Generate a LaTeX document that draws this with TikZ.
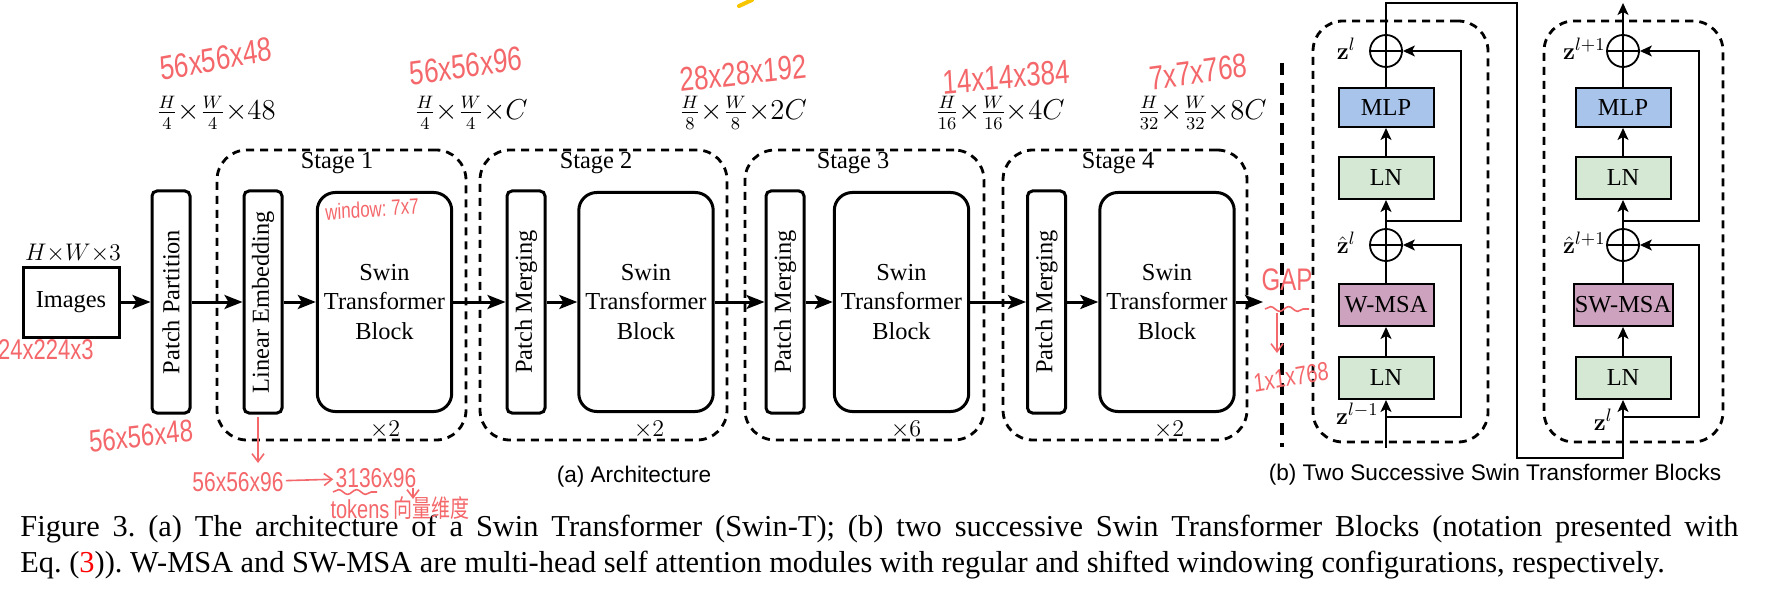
\documentclass[tikz,border=0pt]{standalone}
\usepackage{amsmath}
\usepackage[no-math]{fontspec}
\setmainfont{Liberation Serif}
\newfontfamily\labelsans{Liberation Sans}
\newfontfamily\inkfont{Liberation Sans}
\newfontfamily\cjk{Noto Sans CJK SC}
\usetikzlibrary{arrows.meta,calc,decorations.pathmorphing}
\definecolor{mlpblue}{HTML}{A9C4EB}
\definecolor{lngreen}{HTML}{D5E8D4}
\definecolor{msapurple}{HTML}{CDA2BE}
\definecolor{inkred}{HTML}{F4676A}
\definecolor{inkyellow}{HTML}{F7C600}
\frenchspacing
\newcommand\figfs{\fontsize{12.2}{14.8}\selectfont}
\newcommand\dimfs{\fontsize{13.3}{15}\selectfont}
\newcommand\capfs{\fontsize{15.2}{18}\selectfont}
\newcommand\subfs{\labelsans\fontsize{11.3}{13}\selectfont}
\newcommand\inkfs[1]{\inkfont\fontsize{#1}{#1}\selectfont}
\tikzset{
  flowarrow/.style={-{Stealth[length=9pt,width=7pt,inset=2pt]}, line width=1.5pt},
  thinarrow/.style={-{Stealth[length=6pt,width=5.5pt,inset=1.5pt]}, line width=0.75pt},
  thinline/.style={line width=0.75pt},
  imgbox/.style={draw, line width=1.5pt, minimum width=48pt, minimum height=35pt},
  slimbox/.style={draw, line width=1.5pt, rounded corners=2.5pt, rotate=90, minimum width=111pt, minimum height=19pt, inner sep=0pt},
  swinbox/.style={draw, line width=1.5pt, rounded corners=9pt, minimum width=66pt, minimum height=109.5pt, align=center},
  stagebox/.style={draw, dash pattern=on 4pt off 3pt, line width=1.4pt, rounded corners=15pt},
  normbox/.style={draw, line width=1pt, fill=lngreen, minimum width=47.5pt, minimum height=21pt, inner sep=0pt},
  mlpbox/.style={normbox, fill=mlpblue, minimum height=19.5pt},
  msabox/.style={normbox, fill=msapurple},
  plusnode/.style={draw, circle, line width=0.9pt, minimum size=16pt, inner sep=0pt,
    path picture={\draw[line width=0.9pt] (path picture bounding box.north) -- (path picture bounding box.south)
      (path picture bounding box.west) -- (path picture bounding box.east);}},
  inknote/.style={text=inkred, font=\inkfs{12}, yscale=1.3, inner sep=1pt},
  inkarrow/.style={draw=inkred, line width=0.8pt, -{Straight Barb[length=4pt,width=6pt]}},
  inkwave/.style={draw=inkred, line width=0.8pt, decorate, decoration={snake, amplitude=1.2pt, segment length=9pt}}
}

\begin{document}
\begin{tikzpicture}[x=0.5pt, y=-0.5pt, every node/.style={font=\figfs}]
  \path[fill=white, use as bounding box] (0,0) rectangle (1786,609);

  % (a) architecture
  \node[stagebox, minimum width=124.5pt, minimum height=145pt] (stage1) at (341.5,295) {};
  \node[stagebox, minimum width=123.5pt, minimum height=145pt] (stage2) at (603.5,295) {};
  \node[stagebox, minimum width=119.5pt, minimum height=145pt] (stage3) at (864.5,295) {};
  \node[stagebox, minimum width=122pt, minimum height=145pt] (stage4) at (1125,295) {};
  \node (stage1lbl) at (337,163) {Stage 1};
  \node (stage2lbl) at (596,163) {Stage 2};
  \node (stage3lbl) at (853,163) {Stage 3};
  \node (stage4lbl) at (1118,163) {Stage 4};

  \node[font=\fontsize{12.5}{14}\selectfont] (imgdim) at (73,253) {$H{\times}W{\times}3$};
  \node[imgbox] (img) at (71,302) {Images};
  \node[slimbox] (pp) at (171,302) {Patch Partition};
  \node[slimbox] (le) at (263,302) {Linear Embedding};
  \node[swinbox] (stb1) at (384.5,302) {Swin\\Transformer\\Block};
  \node[slimbox] (pm2) at (526,302) {Patch Merging};
  \node[swinbox] (stb2) at (646,302) {Swin\\Transformer\\Block};
  \node[slimbox] (pm3) at (785,302) {Patch Merging};
  \node[swinbox] (stb3) at (901.5,302) {Swin\\Transformer\\Block};
  \node[slimbox] (pm4) at (1046.5,302) {Patch Merging};
  \node[swinbox] (stb4) at (1167,302) {Swin\\Transformer\\Block};
  \coordinate (gapin) at (1263,302);

  \node (rep1) at (385,430) {${\times}2$};
  \node (rep2) at (649,430) {${\times}2$};
  \node (rep3) at (906,430) {${\times}6$};
  \node (rep4) at (1169,430) {${\times}2$};

  \node[font=\dimfs] (dim1) at (216,113) {$\frac{H}{4}{\times}\frac{W}{4}{\times}48$};
  \node[font=\dimfs] (dim2) at (471,113) {$\frac{H}{4}{\times}\frac{W}{4}{\times}C$};
  \node[font=\dimfs] (dim3) at (743,113) {$\frac{H}{8}{\times}\frac{W}{8}{\times}2C$};
  \node[font=\dimfs] (dim4) at (1000,113) {$\frac{H}{16}{\times}\frac{W}{16}{\times}4C$};
  \node[font=\dimfs] (dim5) at (1202,113) {$\frac{H}{32}{\times}\frac{W}{32}{\times}8C$};

  \draw[flowarrow] (img) -- (pp);
  \draw[flowarrow] (pp) -- (le);
  \draw[flowarrow] (le) -- (stb1);
  \draw[flowarrow] (stb1) -- (pm2);
  \draw[flowarrow] (pm2) -- (stb2);
  \draw[flowarrow] (stb2) -- (pm3);
  \draw[flowarrow] (pm3) -- (stb3);
  \draw[flowarrow] (stb3) -- (pm4);
  \draw[flowarrow] (pm4) -- (stb4);
  \draw[flowarrow] (stb4) -- (gapin);

  \draw[line width=2pt, dash pattern=on 6pt off 4pt] (1282,63) -- (1282,447);

  % (b) two successive blocks
  \node[stagebox, minimum width=87.5pt, minimum height=210.5pt] (blk1) at (1400.5,231.5) {};
  \node[stagebox, minimum width=89.5pt, minimum height=210.5pt] (blk2) at (1633.5,231.5) {};

  \node[plusnode] (add1b) at (1386,51) {};
  \node[mlpbox] (mlp1) at (1386,107.5) {MLP};
  \node[normbox] (ln1b) at (1386,178) {LN};
  \node[plusnode] (add1a) at (1386,245) {};
  \node[msabox] (msa1) at (1386,305) {W-MSA};
  \node[normbox] (ln1a) at (1386,378) {LN};

  \node[plusnode] (add2b) at (1623,51) {};
  \node[mlpbox] (mlp2) at (1623,107.5) {MLP};
  \node[normbox] (ln2b) at (1623,178) {LN};
  \node[plusnode] (add2a) at (1623,245) {};
  \node[msabox, minimum width=49.5pt] (msa2) at (1623,305) {SW-MSA};
  \node[normbox] (ln2a) at (1623,378) {LN};

  \node[anchor=east, inner sep=0pt] (z1) at (1356,49) {$\mathbf{z}^{l}$};
  \node[anchor=east, inner sep=0pt] (zh1) at (1356,243) {$\hat{\mathbf{z}}^{l}$};
  \node[anchor=east, inner sep=0pt] (zin1) at (1379,414) {$\mathbf{z}^{l-1}$};
  \node[anchor=east, inner sep=0pt] (z2) at (1606,49) {$\mathbf{z}^{l+1}$};
  \node[anchor=east, inner sep=0pt] (zh2) at (1606,243) {$\hat{\mathbf{z}}^{l+1}$};
  \node[anchor=east, inner sep=0pt] (zin2) at (1613,420) {$\mathbf{z}^{l}$};

  \coordinate (in1) at (1386,448);
  \coordinate (br1a) at (1386,417);
  \coordinate (br1b) at (1386,221);
  \coordinate (top1) at (1386,3);
  \coordinate (bend) at (1517,458);
  \coordinate (br2a) at (1623,417);
  \coordinate (br2b) at (1623,221);
  \coordinate (out2) at (1623,3);

  \draw[thinarrow] (in1) -- (ln1a);
  \draw[thinarrow] (ln1a) -- (msa1);
  \draw[thinline] (msa1) -- (add1a);
  \draw[thinarrow] (add1a) -- (ln1b);
  \draw[thinarrow] (ln1b) -- (mlp1);
  \draw[thinline] (mlp1) -- (add1b);
  \draw[thinarrow] (br1a) -| ($(add1a)+(75,0)$) -- (add1a);
  \draw[thinarrow] (br1b) -| ($(add1b)+(75,0)$) -- (add1b);
  \draw[thinarrow] (add1b) -- (top1) -| (bend) -| (ln2a);

  \draw[thinarrow] (ln2a) -- (msa2);
  \draw[thinline] (msa2) -- (add2a);
  \draw[thinarrow] (add2a) -- (ln2b);
  \draw[thinarrow] (ln2b) -- (mlp2);
  \draw[thinline] (mlp2) -- (add2b);
  \draw[thinarrow] (br2a) -| ($(add2a)+(76,0)$) -- (add2a);
  \draw[thinarrow] (br2b) -| ($(add2b)+(76,0)$) -- (add2b);
  \draw[thinarrow] (add2b) -- (out2);

  % sub-captions and caption
  \node[font=\subfs] (suba) at (634,477) {(a) Architecture};
  \node[font=\subfs] (subb) at (1495,475) {(b) Two Successive Swin Transformer Blocks};
  \node[anchor=north west, text width=859pt, align=justify, font=\capfs, inner sep=0pt] (caption) at (20,515)
    {Figure 3. (a) The architecture of a Swin Transformer (Swin-T); (b) two successive Swin Transformer Blocks (notation presented with\linebreak
     Eq. (\textcolor{red}{3})). W-MSA and SW-MSA are multi-head self attention modules with regular and shifted windowing configurations, respectively.};

  % handwritten notes
  \node[inknote, rotate=8, font=\inkfs{13}] (ink1) at (216,59) {56x56x48};
  \node[inknote, rotate=6, font=\inkfs{13}] (ink2) at (466,66) {56x56x96};
  \node[inknote, rotate=5, font=\inkfs{13}] (ink3) at (743,73) {28x28x192};
  \node[inknote, rotate=4, font=\inkfs{13}] (ink4) at (1006,77) {14x14x384};
  \node[inknote, rotate=6, font=\inkfs{13}] (ink5) at (1198,72) {7x7x768};
  \node[inknote, rotate=3, font=\inkfs{8.5}] (ink6) at (372,209) {window: 7x7};
  \node[inknote, anchor=east, font=\inkfs{11}] (ink7) at (96,350) {224x224x3};
  \node[inknote, rotate=5] (ink8) at (141,436) {56x56x48};
  \node[inknote, font=\inkfs{10.5}] (tok1) at (238,482) {56x56x96};
  \node[inknote, font=\inkfs{10.5}] (tok2) at (376,478) {3136x96};
  \node[inknote, font=\inkfs{10}] (tok3) at (360,509) {tokens};
  \node[inknote, font=\cjk\fontsize{9.5}{11}\selectfont] (tok4) at (431,508) {向量维度};
  \node[inknote] (gap) at (1287,280) {GAP};
  \node[inknote, rotate=8, font=\inkfs{10}] (gapout) at (1291,377) {1x1x768};
  \coordinate (leout) at (258,417);
  \coordinate (tokin) at (258,463);
  \draw[inkarrow] (leout) -- (tokin);
  \draw[inkarrow] (tok1) -- (tok2);
  \draw[inkwave] (333,492) -- (377,492);
  \draw[inkarrow] (413,488) -- (413,499);
  \draw[inkwave] (1265,309) -- (1309,309);
  \draw[inkarrow] (1277,313) -- (1277,353);
  \draw[inkyellow, line width=2pt, line cap=round] (739,6) -- (752,0);
\end{tikzpicture}
\end{document}
